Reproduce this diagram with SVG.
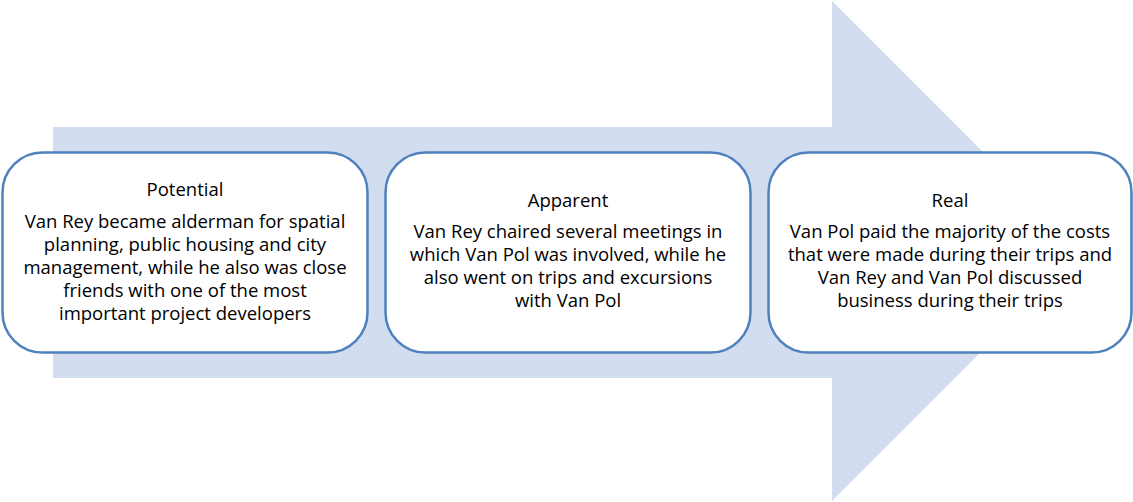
<svg xmlns="http://www.w3.org/2000/svg" width="1133" height="502" viewBox="0 0 1133 502">
<style>
.box{fill:#fff;stroke:#4F81BD;stroke-width:2.5}
.t{font-family:"Open Sans","Liberation Sans",Arial,sans-serif;font-size:18.5px;fill:#000;text-anchor:middle}
</style>
<rect width="1133" height="502" fill="#fff"/>
<g id="arrow">
<polygon points="53,127 832,127 832,1 1082,251 832,501 832,378 53,378" fill="#D2DEEF"/>
</g>
<g id="connectors"></g>
<g id="potential">
<rect class="box" x="2.5" y="152.5" width="365" height="200" rx="40"/>
<text class="t" x="185" y="196">Potential</text>
<text class="t" x="185" y="228">Van Rey became alderman for spatial</text>
<text class="t" x="185" y="251">planning, public housing and city</text>
<text class="t" x="185" y="274">management, while he also was close</text>
<text class="t" x="185" y="297">friends with one of the most</text>
<text class="t" x="185" y="320">important project developers</text>
</g>
<g id="apparent">
<rect class="box" x="385.5" y="152.5" width="365" height="200" rx="40"/>
<text class="t" x="568" y="207">Apparent</text>
<text class="t" x="568" y="238">Van Rey chaired several meetings in</text>
<text class="t" x="568" y="261">which Van Pol was involved, while he</text>
<text class="t" x="568" y="284">also went on trips and excursions</text>
<text class="t" x="568" y="307">with Van Pol</text>
</g>
<g id="real">
<rect class="box" x="768.5" y="152.5" width="363" height="200" rx="40"/>
<text class="t" x="950" y="207">Real</text>
<text class="t" x="950" y="238">Van Pol paid the majority of the costs</text>
<text class="t" x="950" y="261">that were made during their trips and</text>
<text class="t" x="950" y="284">Van Rey and Van Pol discussed</text>
<text class="t" x="950" y="307">business during their trips</text>
</g>
</svg>
